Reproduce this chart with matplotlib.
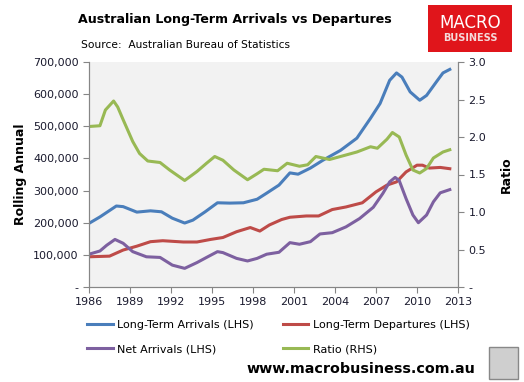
import numpy as np
import matplotlib.pyplot as plt
from matplotlib.patches import Rectangle
from matplotlib.lines import Line2D

# data (year, value)
arr_years = [1986.0, 1986.8, 1988.0, 1988.5, 1989.5, 1990.5, 1991.3, 1992.1, 1993.0, 1993.6,
             1994.5, 1995.4, 1996.3, 1997.3, 1998.3, 1999.0, 1999.9, 2000.7, 2001.3, 2002.2,
             2003.1, 2004.4, 2005.6, 2006.6, 2007.3, 2008.0, 2008.5, 2008.9, 2009.5, 2010.2,
             2010.7, 2011.5, 2011.9, 2012.4]
arrivals = [198, 218, 252, 250, 233, 237, 234, 214, 199, 208,
            234, 262, 261, 262, 273, 292, 317, 355, 351, 370,
            394, 425, 463, 525, 571, 643, 666, 653, 607, 581,
            596, 643, 666, 677]

dep_years = [1986.0, 1987.5, 1988.5, 1989.5, 1990.5, 1991.4, 1992.9, 1993.9, 1994.9, 1995.8,
             1996.8, 1997.8, 1998.5, 1999.2, 2000.1, 2000.7, 2001.9, 2002.8, 2003.8, 2004.8,
             2006.0, 2007.0, 2007.8, 2008.5, 2009.2, 2010.0, 2010.4, 2010.9, 2011.7, 2012.4]
departures = [94, 96, 115, 127, 141, 144, 140, 140, 148, 154,
              172, 185, 174, 193, 210, 217, 221, 221, 241, 249,
              262, 296, 317, 327, 358, 379, 379, 370, 372, 368]

net_years = [1986.0, 1986.8, 1987.3, 1987.9, 1988.5, 1989.2, 1990.2, 1991.2, 1992.1, 1993.0,
             1993.9, 1994.6, 1995.4, 1995.8, 1996.8, 1997.6, 1998.3, 1999.0, 1999.9, 2000.7,
             2001.4, 2002.2, 2002.9, 2003.8, 2004.8, 2005.8, 2006.8, 2007.5, 2008.0, 2008.4,
             2008.7, 2009.2, 2009.7, 2010.1, 2010.7, 2011.2, 2011.7, 2012.4]
net = [102, 112, 130, 148, 136, 110, 94, 92, 68, 58,
       76, 92, 110, 107, 89, 81, 89, 102, 108, 138,
       133, 141, 165, 169, 187, 213, 248, 291, 327, 341,
       331, 275, 224, 200, 224, 265, 293, 303]

ratio_years = [1986.0, 1986.8, 1987.2, 1987.8, 1988.1, 1988.5, 1989.2, 1989.7, 1990.3, 1991.2,
               1991.9, 1993.0, 1993.9, 1994.6, 1995.2, 1995.8, 1996.6, 1997.6, 1998.3, 1998.8,
               1999.8, 2000.5, 2001.4, 2002.0, 2002.6, 2003.6, 2004.4, 2005.6, 2006.6, 2007.1,
               2007.8, 2008.2, 2008.7, 2009.2, 2009.7, 2010.2, 2010.7, 2011.2, 2011.9, 2012.4]
ratio = [2.14, 2.15, 2.36, 2.48, 2.40, 2.23, 1.94, 1.78, 1.68, 1.66,
         1.56, 1.42, 1.54, 1.65, 1.74, 1.69, 1.56, 1.43, 1.51, 1.57,
         1.55, 1.65, 1.61, 1.63, 1.74, 1.70, 1.74, 1.80, 1.87, 1.85,
         1.97, 2.06, 2.00, 1.76, 1.56, 1.52, 1.58, 1.72, 1.80, 1.83]

year_ticks = [1986, 1989, 1992, 1995, 1998, 2001, 2004, 2007, 2010, 2013]
left_ticks = [0, 100000, 200000, 300000, 400000, 500000, 600000, 700000]
left_labels = ['-', '100,000', '200,000', '300,000', '400,000', '500,000', '600,000', '700,000']
right_ticks = [0, 0.5, 1.0, 1.5, 2.0, 2.5, 3.0]
right_labels = ['-', '0.5', '1.0', '1.5', '2.0', '2.5', '3.0']

blue = '#4A7EBB'
red = '#BE4B48'
purple = '#7D60A0'
green = '#98B954'
txt = '#1a1a2e'

fig = plt.figure(figsize=(5.24, 3.82), dpi=100)
ax = fig.add_axes([89/524, 1-287/382, (458-89)/524, (287-62)/382])
ax.set_facecolor('#F2F2F2')
ax2 = ax.twinx()

lw = 2.2
ax.plot(arr_years, np.array(arrivals)*1000, color=blue, lw=lw)
ax.plot(dep_years, np.array(departures)*1000, color=red, lw=lw)
ax.plot(net_years, np.array(net)*1000, color=purple, lw=lw)
ax2.plot(ratio_years, ratio, color=green, lw=lw)

ax.set_xlim(1986, 2013)
ax.set_ylim(0, 700000)
ax2.set_ylim(0, 3.0)
ax.set_xticks(year_ticks)
ax.set_yticks(left_ticks)
ax.set_yticklabels(left_labels)
ax2.set_yticks(right_ticks)
ax2.set_yticklabels(right_labels)

for a in (ax, ax2):
    for s in a.spines.values():
        s.set_color('#868686')
    a.spines['top'].set_visible(False)
    a.tick_params(colors='#868686', labelcolor=txt, labelsize=8, length=4, direction='out')

ax.set_ylabel('Rolling Annual', fontsize=9, fontweight='bold', labelpad=4)
ax2.set_ylabel('Ratio', fontsize=9, fontweight='bold', labelpad=10)

fig.text(235/524, 1-20/382, 'Australian Long-Term Arrivals vs Departures', fontsize=9.1,
         fontweight='bold', ha='center', va='center')
fig.text(81/524, 1-45/382, 'Source:  Australian Bureau of Statistics', fontsize=7.7,
         ha='left', va='center')

# logo box
fig.patches.append(Rectangle((428/524, 1-52/382), 84/524, 47/382, transform=fig.transFigure,
                             facecolor='#E0151B', edgecolor='none'))
fig.text(470/524, 1-23/382, 'MACRO', fontsize=12, color='white', ha='center', va='center')
fig.text(470/524, 1-38/382, 'BUSINESS', fontsize=7, color='#f5dada', ha='center', va='center',
         fontweight='bold')

handles = [Line2D([], [], color=blue, lw=lw), Line2D([], [], color=purple, lw=lw),
           Line2D([], [], color=red, lw=lw), Line2D([], [], color=green, lw=lw)]
labels = ['Long-Term Arrivals (LHS)', 'Net Arrivals (LHS)',
          'Long-Term Departures (LHS)', 'Ratio (RHS)']
fig.legend(handles, labels, loc='upper left', bbox_to_anchor=(85/524, 1-318/382), ncol=2,
           frameon=False, fontsize=8, handlelength=2.3, handletextpad=0.4,
           columnspacing=2.6, labelspacing=1.25, borderaxespad=0, borderpad=0.2)

fig.text(361/524, 1-369/382, 'www.macrobusiness.com.au', fontsize=10.3, fontweight='bold',
         ha='center', va='center')
fig.patches.append(Rectangle((489/524, 1-379/382), 29/524, 32/382, transform=fig.transFigure,
                             facecolor='#cfcfcf', edgecolor='#888888', lw=1))

fig.savefig('out.png', dpi=100)
